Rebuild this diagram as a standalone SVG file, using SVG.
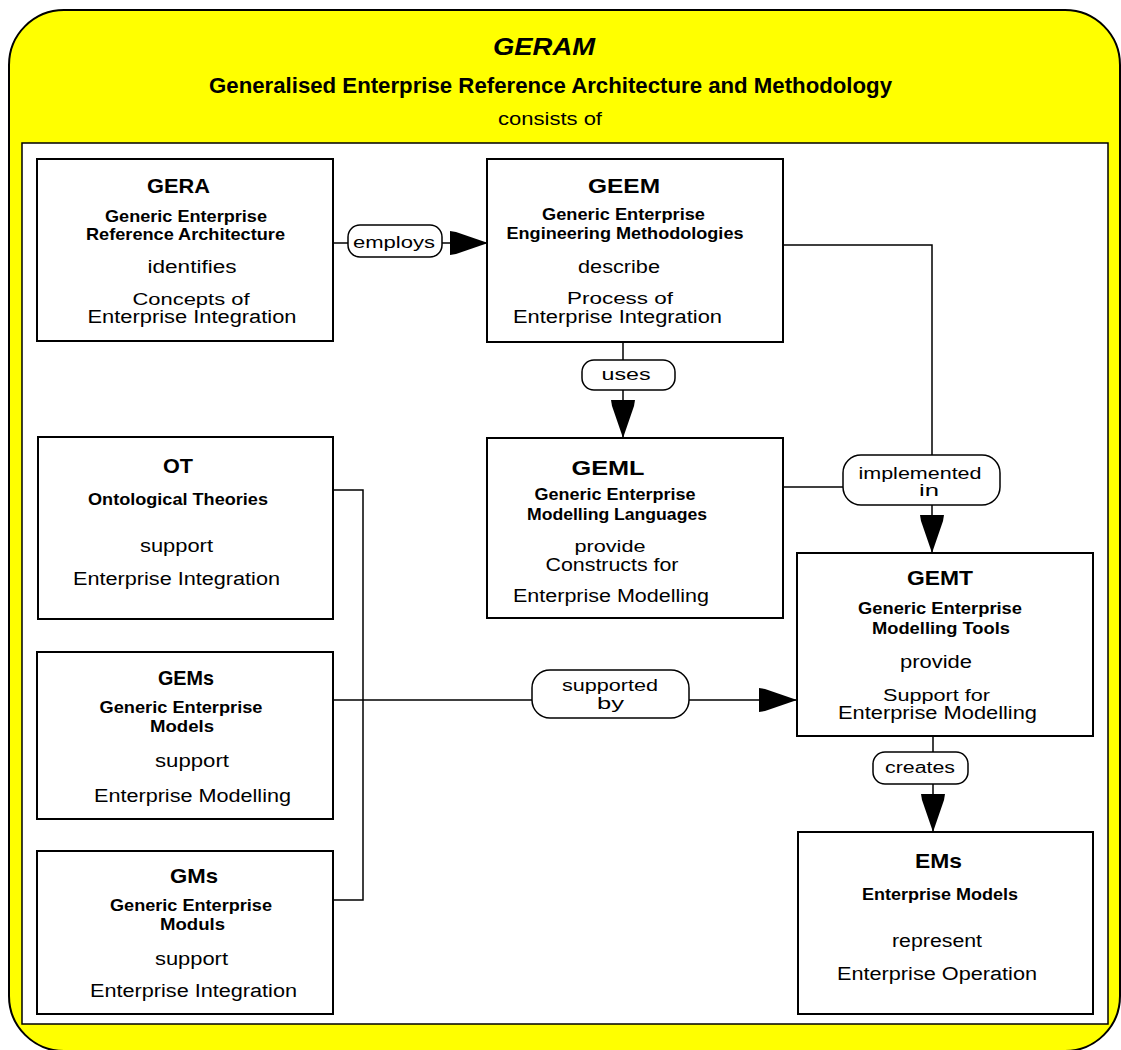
<svg xmlns="http://www.w3.org/2000/svg" width="1121" height="1050" viewBox="0 0 1121 1050">
  <style>
    text { font-family: "Liberation Sans", Arial, sans-serif; fill: #000; text-anchor: middle; }
    .abbr { font-size: 21px; font-weight: bold; }
    .name { font-size: 17px; font-weight: bold; }
    .verb { font-size: 18px; }
    .tight { font-size: 16px; }
    .lbl { font-size: 16px; }
    .box { fill: #fff; stroke: #000; stroke-width: 2; }
    .pill { fill: #fff; stroke: #000; stroke-width: 1.5; }
    .wire { fill: none; stroke: #000; stroke-width: 1.5; }
  </style>
  <defs>
    <marker id="head" viewBox="0 0 38 24" refX="38" refY="12" markerWidth="38" markerHeight="24" markerUnits="userSpaceOnUse" orient="auto">
      <path d="M0,0 L6,1 L38,12 L6,23 L0,24 Z" fill="#000"/>
    </marker>
  </defs>

  <!-- framework frame -->
  <g id="geram">
    <rect x="9" y="10" width="1111" height="1041" rx="55" ry="55" fill="#ffff00" stroke="#000" stroke-width="2"/>
    <text x="544" y="55" font-size="24" font-weight="bold" font-style="italic" textLength="102" lengthAdjust="spacingAndGlyphs">GERAM</text>
    <text x="550.5" y="93" font-size="22" font-weight="bold" textLength="683" lengthAdjust="spacingAndGlyphs">Generalised Enterprise Reference Architecture and Methodology</text>
    <text x="550" y="125" font-size="18" textLength="104" lengthAdjust="spacingAndGlyphs">consists of</text>
    <rect x="22" y="143" width="1086" height="881" fill="#fff" stroke="#000" stroke-width="1.5"/>
  </g>

  <!-- connectors -->
  <g id="connectors">
    <!-- GERA employs GEEM -->
    <line class="wire" x1="333" y1="243" x2="348" y2="243"/>
    <line class="wire" x1="442" y1="243" x2="488" y2="243" marker-end="url(#head)"/>
    <rect class="pill" x="348" y="225" width="94" height="32" rx="12"/>
    <text class="lbl" x="394" y="248" textLength="82" lengthAdjust="spacingAndGlyphs">employs</text>

    <!-- GEEM uses GEML -->
    <line class="wire" x1="623" y1="342" x2="623" y2="360"/>
    <line class="wire" x1="623" y1="390" x2="623" y2="438" marker-end="url(#head)"/>
    <rect class="pill" x="582" y="360" width="93" height="30" rx="12"/>
    <text class="lbl" x="626" y="380" textLength="49" lengthAdjust="spacingAndGlyphs">uses</text>

    <!-- GEEM / GEML implemented in GEMT -->
    <polyline class="wire" points="783,245 932,245 932,455"/>
    <line class="wire" x1="783" y1="487" x2="843" y2="487"/>
    <line class="wire" x1="932" y1="505" x2="932" y2="553" marker-end="url(#head)"/>
    <rect class="pill" x="843" y="455" width="157" height="50" rx="18"/>
    <text class="lbl" x="920" y="479" textLength="123" lengthAdjust="spacingAndGlyphs">implemented</text>
    <text class="lbl" x="929" y="496" textLength="20" lengthAdjust="spacingAndGlyphs">in</text>

    <!-- OT / GEMs / GMs supported by GEMT -->
    <polyline class="wire" points="333,490 363,490 363,900 333,900"/>
    <line class="wire" x1="333" y1="700" x2="532" y2="700"/>
    <line class="wire" x1="689" y1="700" x2="797" y2="700" marker-end="url(#head)"/>
    <rect class="pill" x="532" y="670" width="157" height="48" rx="18"/>
    <text class="lbl" x="610" y="691" textLength="96" lengthAdjust="spacingAndGlyphs">supported</text>
    <text class="lbl" x="610.5" y="709" textLength="27" lengthAdjust="spacingAndGlyphs">by</text>

    <!-- GEMT creates EMs -->
    <line class="wire" x1="933" y1="736" x2="933" y2="752"/>
    <line class="wire" x1="933" y1="784" x2="933" y2="832" marker-end="url(#head)"/>
    <rect class="pill" x="873" y="752" width="95" height="32" rx="12"/>
    <text class="lbl" x="920" y="773" textLength="70" lengthAdjust="spacingAndGlyphs">creates</text>
  </g>

  <g id="gera">
    <rect class="box" x="37" y="159" width="296" height="182"/>
    <text class="abbr" x="178.5" y="193" textLength="63" lengthAdjust="spacingAndGlyphs">GERA</text>
    <text class="name" x="186" y="222" textLength="162" lengthAdjust="spacingAndGlyphs">Generic Enterprise</text>
    <text class="name" x="185.5" y="240" textLength="199" lengthAdjust="spacingAndGlyphs">Reference Architecture</text>
    <text class="verb" x="192" y="273" textLength="89" lengthAdjust="spacingAndGlyphs">identifies</text>
    <text class="tight" x="191" y="305" textLength="117" lengthAdjust="spacingAndGlyphs">Concepts of</text>
    <text class="verb" x="192" y="323" textLength="209" lengthAdjust="spacingAndGlyphs">Enterprise Integration</text>
  </g>

  <g id="geem">
    <rect class="box" x="487" y="159" width="296" height="183"/>
    <text class="abbr" x="624" y="193" textLength="72" lengthAdjust="spacingAndGlyphs">GEEM</text>
    <text class="name" x="623.5" y="220" textLength="163" lengthAdjust="spacingAndGlyphs">Generic Enterprise</text>
    <text class="name" x="625" y="239" textLength="237" lengthAdjust="spacingAndGlyphs">Engineering Methodologies</text>
    <text class="verb" x="619" y="273" textLength="82" lengthAdjust="spacingAndGlyphs">describe</text>
    <text class="tight" x="620" y="304" textLength="106" lengthAdjust="spacingAndGlyphs">Process of</text>
    <text class="verb" x="617.5" y="323" textLength="209" lengthAdjust="spacingAndGlyphs">Enterprise Integration</text>
  </g>

  <g id="geml">
    <rect class="box" x="487" y="438" width="296" height="180"/>
    <text class="abbr" x="608" y="475" textLength="73" lengthAdjust="spacingAndGlyphs">GEML</text>
    <text class="name" x="615" y="500" textLength="161" lengthAdjust="spacingAndGlyphs">Generic Enterprise</text>
    <text class="name" x="617" y="520" textLength="180" lengthAdjust="spacingAndGlyphs">Modelling Languages</text>
    <text class="tight" x="610" y="552" textLength="71" lengthAdjust="spacingAndGlyphs">provide</text>
    <text class="verb" x="612" y="571" textLength="133" lengthAdjust="spacingAndGlyphs">Constructs for</text>
    <text class="verb" x="611" y="602" textLength="196" lengthAdjust="spacingAndGlyphs">Enterprise Modelling</text>
  </g>

  <g id="ot">
    <rect class="box" x="38" y="437" width="295" height="182"/>
    <text class="abbr" x="178" y="473" textLength="30" lengthAdjust="spacingAndGlyphs">OT</text>
    <text class="name" x="178" y="505" textLength="180" lengthAdjust="spacingAndGlyphs">Ontological Theories</text>
    <text class="verb" x="176.5" y="552" textLength="73" lengthAdjust="spacingAndGlyphs">support</text>
    <text class="verb" x="176.5" y="585" textLength="207" lengthAdjust="spacingAndGlyphs">Enterprise Integration</text>
  </g>

  <g id="gems">
    <rect class="box" x="37" y="652" width="296" height="167"/>
    <text class="abbr" x="186" y="685" textLength="56" lengthAdjust="spacingAndGlyphs">GEMs</text>
    <text class="name" x="181" y="713" textLength="163" lengthAdjust="spacingAndGlyphs">Generic Enterprise</text>
    <text class="name" x="182" y="732" textLength="64" lengthAdjust="spacingAndGlyphs">Models</text>
    <text class="verb" x="192" y="767" textLength="74" lengthAdjust="spacingAndGlyphs">support</text>
    <text class="verb" x="192.5" y="802" textLength="197" lengthAdjust="spacingAndGlyphs">Enterprise Modelling</text>
  </g>

  <g id="gms">
    <rect class="box" x="37" y="851" width="296" height="163"/>
    <text class="abbr" x="194" y="883" textLength="48" lengthAdjust="spacingAndGlyphs">GMs</text>
    <text class="name" x="191" y="911" textLength="162" lengthAdjust="spacingAndGlyphs">Generic Enterprise</text>
    <text class="name" x="192.5" y="930" textLength="65" lengthAdjust="spacingAndGlyphs">Moduls</text>
    <text class="verb" x="191.5" y="965" textLength="73" lengthAdjust="spacingAndGlyphs">support</text>
    <text class="verb" x="193.5" y="997" textLength="207" lengthAdjust="spacingAndGlyphs">Enterprise Integration</text>
  </g>

  <g id="gemt">
    <rect class="box" x="797" y="553" width="296" height="183"/>
    <text class="abbr" x="940" y="585" textLength="66" lengthAdjust="spacingAndGlyphs">GEMT</text>
    <text class="name" x="940" y="614" textLength="164" lengthAdjust="spacingAndGlyphs">Generic Enterprise</text>
    <text class="name" x="941" y="634" textLength="138" lengthAdjust="spacingAndGlyphs">Modelling Tools</text>
    <text class="verb" x="936" y="668" textLength="72" lengthAdjust="spacingAndGlyphs">provide</text>
    <text class="tight" x="936.5" y="701" textLength="107" lengthAdjust="spacingAndGlyphs">Support for</text>
    <text class="verb" x="937.5" y="719" textLength="199" lengthAdjust="spacingAndGlyphs">Enterprise Modelling</text>
  </g>

  <g id="ems">
    <rect class="box" x="798" y="832" width="295" height="182"/>
    <text class="abbr" x="938.5" y="868" textLength="47" lengthAdjust="spacingAndGlyphs">EMs</text>
    <text class="name" x="940" y="900" textLength="156" lengthAdjust="spacingAndGlyphs">Enterprise Models</text>
    <text class="verb" x="937" y="947" textLength="90" lengthAdjust="spacingAndGlyphs">represent</text>
    <text class="verb" x="937" y="980" textLength="200" lengthAdjust="spacingAndGlyphs">Enterprise Operation</text>
  </g>
</svg>
